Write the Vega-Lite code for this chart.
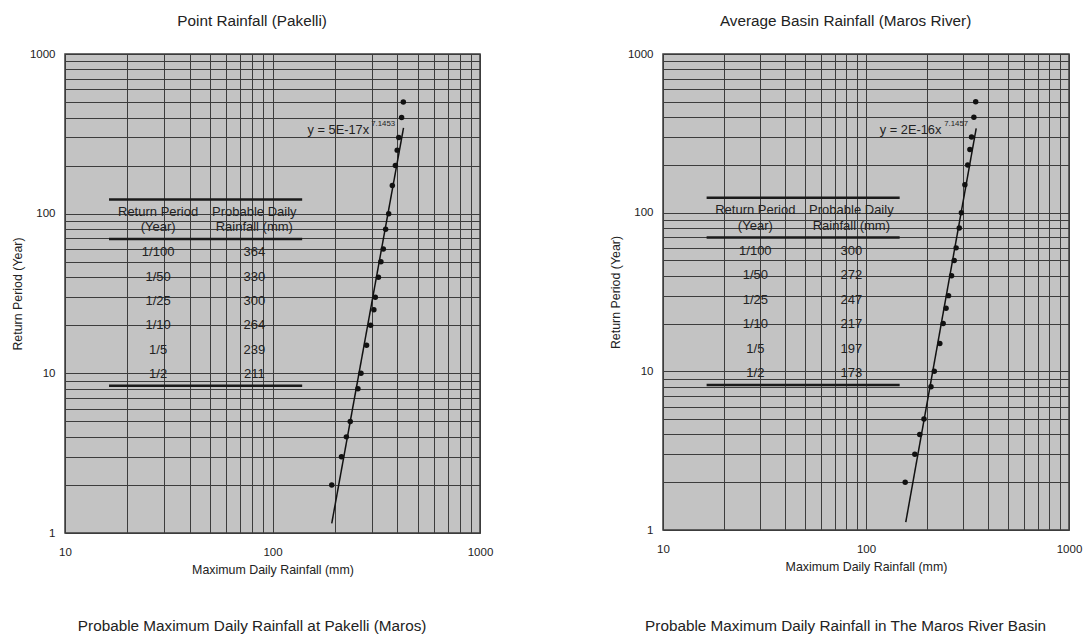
{
  "$schema": "https://vega.github.io/schema/vega-lite/v6.json",
  "background": "white",
  "padding": {"left": 10, "top": 12, "right": 0, "bottom": 0},
  "config": {
    "font": "Liberation Sans",
    "view": {"fill": "#c3c3c3", "stroke": "#3c3c3c", "strokeWidth": 1.5},
    "axis": {"grid": true, "gridColor": "#3c3c3c", "gridOpacity": 1, "gridWidth": 1, "ticks": false, "domain": false, "labelFontSize": 11.5, "labelColor": "#222", "titleFontSize": 12.4, "titleFontWeight": "normal", "titleColor": "#222", "labelOverlap": false, "labelFlush": false, "labelBound": false},
    "axisX": {"labelPadding": 13, "titlePadding": 6},
    "axisY": {"labelPadding": 10, "titlePadding": 5},
    "title": {"fontSize": 15.3, "fontWeight": "normal", "color": "#222"}
  },
  "datasets": {
    "pk_points": [
      {"x": 193, "y": 2}, {"x": 215, "y": 3}, {"x": 227, "y": 4}, {"x": 237, "y": 5}, {"x": 258, "y": 8},
      {"x": 267, "y": 10}, {"x": 284, "y": 15}, {"x": 297, "y": 20}, {"x": 308, "y": 25}, {"x": 313, "y": 30},
      {"x": 324, "y": 40}, {"x": 333, "y": 50}, {"x": 342, "y": 60}, {"x": 351, "y": 80}, {"x": 363, "y": 100},
      {"x": 378, "y": 150}, {"x": 391, "y": 200}, {"x": 399, "y": 250}, {"x": 406, "y": 300}, {"x": 419, "y": 400},
      {"x": 427, "y": 500}
    ],
    "pk_fit": [{"x": 193, "y": 1.15}, {"x": 428, "y": 345}],
    "pk_rules": [
      {"x": 16.3, "x2": 139, "y": 122.7},
      {"x": 16.3, "x2": 139, "y": 69.3},
      {"x": 16.3, "x2": 139, "y": 8.37}
    ],
    "pk_table": [
      {"x": 28.1, "y": 102.4, "label": "Return Period"},
      {"x": 28.1, "y": 82.2, "label": "(Year)"},
      {"x": 81.7, "y": 102.4, "label": "Probable Daily"},
      {"x": 81.7, "y": 82.2, "label": "Rainfall (mm)"},
      {"x": 28.1, "y": 57.3, "label": "1/100"}, {"x": 81.7, "y": 57.3, "label": "364"},
      {"x": 28.1, "y": 40, "label": "1/50"}, {"x": 81.7, "y": 40, "label": "330"},
      {"x": 28.1, "y": 28.2, "label": "1/25"}, {"x": 81.7, "y": 28.2, "label": "300"},
      {"x": 28.1, "y": 20, "label": "1/10"}, {"x": 81.7, "y": 20, "label": "264"},
      {"x": 28.1, "y": 14, "label": "1/5"}, {"x": 81.7, "y": 14, "label": "239"},
      {"x": 28.1, "y": 9.9, "label": "1/2"}, {"x": 81.7, "y": 9.9, "label": "211"}
    ],
    "pk_eq": [{"x": 147.6, "y": 334, "label": "y = 5E-17x"}],
    "pk_exp": [{"x": 299, "y": 362, "label": "7.1453"}],
    "mr_points": [
      {"x": 156, "y": 2}, {"x": 174, "y": 3}, {"x": 184, "y": 4}, {"x": 193, "y": 5}, {"x": 209, "y": 8},
      {"x": 217, "y": 10}, {"x": 231, "y": 15}, {"x": 240, "y": 20}, {"x": 248, "y": 25}, {"x": 255, "y": 30},
      {"x": 264, "y": 40}, {"x": 272, "y": 50}, {"x": 278, "y": 60}, {"x": 288, "y": 80}, {"x": 295, "y": 100},
      {"x": 307, "y": 150}, {"x": 317, "y": 200}, {"x": 325, "y": 250}, {"x": 331, "y": 300}, {"x": 340, "y": 400},
      {"x": 347, "y": 500}
    ],
    "mr_fit": [{"x": 157, "y": 1.12}, {"x": 349, "y": 340}],
    "mr_rules": [
      {"x": 16.4, "x2": 146.5, "y": 124},
      {"x": 16.4, "x2": 146.5, "y": 69.7},
      {"x": 16.4, "x2": 146.5, "y": 8.2}
    ],
    "mr_table": [
      {"x": 28.5, "y": 104, "label": "Return Period"},
      {"x": 28.5, "y": 82.8, "label": "(Year)"},
      {"x": 84.7, "y": 104, "label": "Probable Daily"},
      {"x": 84.7, "y": 82.8, "label": "Rainfall (mm)"},
      {"x": 28.5, "y": 57.4, "label": "1/100"}, {"x": 84.7, "y": 57.4, "label": "300"},
      {"x": 28.5, "y": 40.4, "label": "1/50"}, {"x": 84.7, "y": 40.4, "label": "272"},
      {"x": 28.5, "y": 28.1, "label": "1/25"}, {"x": 84.7, "y": 28.1, "label": "247"},
      {"x": 28.5, "y": 20, "label": "1/10"}, {"x": 84.7, "y": 20, "label": "217"},
      {"x": 28.5, "y": 13.8, "label": "1/5"}, {"x": 84.7, "y": 13.8, "label": "197"},
      {"x": 28.5, "y": 9.7, "label": "1/2"}, {"x": 84.7, "y": 9.7, "label": "173"}
    ],
    "mr_eq": [{"x": 117, "y": 334, "label": "y = 2E-16x"}],
    "mr_exp": [{"x": 243, "y": 362, "label": "7.1457"}]
  },
  "spacing": 114,
  "hconcat": [
    {
      "title": {"text": "Probable Maximum Daily Rainfall at Pakelli (Maros)", "orient": "bottom", "anchor": "middle", "frame": "bounds", "offset": 42},
      "vconcat": [
        {
          "title": {"text": "Point Rainfall (Pakelli)", "offset": 19, "anchor": "middle", "frame": "bounds"},
          "width": 415,
          "height": 479,
          "encoding": {
            "x": {"field": "x", "type": "quantitative", "scale": {"type": "log", "domain": [10, 1000], "nice": false},
              "axis": {"title": "Maximum Daily Rainfall (mm)", "values": [10,20,30,40,50,60,70,80,90,100,200,300,400,500,600,700,800,900,1000],
                "labelExpr": "datum.value == 10 || datum.value == 100 || datum.value == 1000 ? format(datum.value, 'd') : ''"}},
            "y": {"field": "y", "type": "quantitative", "scale": {"type": "log", "domain": [1, 1000], "nice": false},
              "axis": {"title": "Return Period (Year)", "values": [1,2,3,4,5,6,7,8,9,10,20,30,40,50,60,70,80,90,100,200,300,400,500,600,700,800,900,1000],
                "labelExpr": "datum.value == 1 || datum.value == 10 || datum.value == 100 || datum.value == 1000 ? format(datum.value, 'd') : ''"}}
          },
          "layer": [
            {"data": {"name": "pk_rules"}, "mark": {"type": "rule", "color": "#1a1a1a", "strokeWidth": 2.5}, "encoding": {"x2": {"field": "x2"}}},
            {"data": {"name": "pk_table"}, "mark": {"type": "text", "fontSize": 13, "color": "#222", "align": "center", "baseline": "middle"}, "encoding": {"text": {"field": "label"}}},
            {"data": {"name": "pk_eq"}, "mark": {"type": "text", "fontSize": 12.8, "color": "#222", "align": "left", "baseline": "middle"}, "encoding": {"text": {"field": "label"}}},
            {"data": {"name": "pk_exp"}, "mark": {"type": "text", "fontSize": 7.8, "color": "#222", "align": "left", "baseline": "middle"}, "encoding": {"text": {"field": "label"}}},
            {"data": {"name": "pk_fit"}, "mark": {"type": "line", "color": "#111", "strokeWidth": 1.5}, "encoding": {}},
            {"data": {"name": "pk_points"}, "mark": {"type": "point", "filled": true, "color": "#111", "size": 30, "opacity": 1}, "encoding": {}}
          ]
        }
      ]
    },
    {
      "title": {"text": "Probable Maximum Daily Rainfall in The Maros River Basin", "orient": "bottom", "anchor": "middle", "frame": "bounds", "offset": 45},
      "vconcat": [
        {
          "title": {"text": "Average Basin Rainfall (Maros River)", "offset": 19, "anchor": "middle", "frame": "bounds"},
          "width": 406,
          "height": 476,
          "encoding": {
            "x": {"field": "x", "type": "quantitative", "scale": {"type": "log", "domain": [10, 1000], "nice": false},
              "axis": {"title": "Maximum Daily Rainfall (mm)", "values": [10,20,30,40,50,60,70,80,90,100,200,300,400,500,600,700,800,900,1000],
                "labelExpr": "datum.value == 10 || datum.value == 100 || datum.value == 1000 ? format(datum.value, 'd') : ''"}},
            "y": {"field": "y", "type": "quantitative", "scale": {"type": "log", "domain": [1, 1000], "nice": false},
              "axis": {"title": "Return Period (Year)", "values": [1,2,3,4,5,6,7,8,9,10,20,30,40,50,60,70,80,90,100,200,300,400,500,600,700,800,900,1000],
                "labelExpr": "datum.value == 1 || datum.value == 10 || datum.value == 100 || datum.value == 1000 ? format(datum.value, 'd') : ''"}}
          },
          "layer": [
            {"data": {"name": "mr_rules"}, "mark": {"type": "rule", "color": "#1a1a1a", "strokeWidth": 2.5}, "encoding": {"x2": {"field": "x2"}}},
            {"data": {"name": "mr_table"}, "mark": {"type": "text", "fontSize": 13, "color": "#222", "align": "center", "baseline": "middle"}, "encoding": {"text": {"field": "label"}}},
            {"data": {"name": "mr_eq"}, "mark": {"type": "text", "fontSize": 12.8, "color": "#222", "align": "left", "baseline": "middle"}, "encoding": {"text": {"field": "label"}}},
            {"data": {"name": "mr_exp"}, "mark": {"type": "text", "fontSize": 7.8, "color": "#222", "align": "left", "baseline": "middle"}, "encoding": {"text": {"field": "label"}}},
            {"data": {"name": "mr_fit"}, "mark": {"type": "line", "color": "#111", "strokeWidth": 1.5}, "encoding": {}},
            {"data": {"name": "mr_points"}, "mark": {"type": "point", "filled": true, "color": "#111", "size": 30, "opacity": 1}, "encoding": {}}
          ]
        }
      ]
    }
  ]
}
